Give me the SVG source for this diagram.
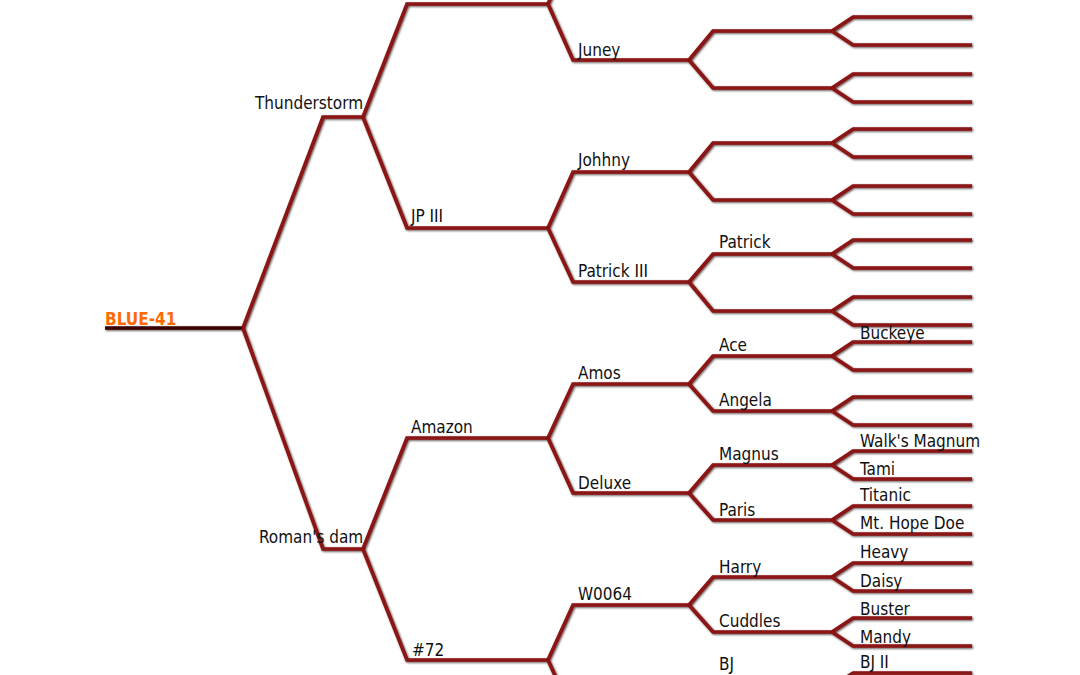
<svg xmlns="http://www.w3.org/2000/svg" width="1080" height="675" viewBox="0 0 1080 675">
<style>
.ln{fill:none;stroke:#8a1212;stroke-width:3.7;stroke-linejoin:miter;stroke-linecap:butt}
.lb{font-family:"DejaVu Sans Condensed","DejaVu Sans",sans-serif;font-size:17px;fill:#111}
.rt{font-family:"DejaVu Sans Condensed","DejaVu Sans",sans-serif;font-size:17px;font-weight:bold;fill:#ff6a00}
</style>
<defs>
<filter id="soft" filterUnits="userSpaceOnUse" x="0" y="-150" width="1080" height="1000">
<feGaussianBlur in="SourceAlpha" stdDeviation="1.3" result="sh"/>
<feOffset in="sh" dx="0.5" dy="1" result="sho"/>
<feFlood flood-color="#1a0000" flood-opacity="0.7"/>
<feComposite in2="sho" operator="in" result="shadow"/>
<feGaussianBlur in="SourceGraphic" stdDeviation="0.6" result="main"/>
<feMerge><feMergeNode in="shadow"/><feMergeNode in="main"/></feMerge>
</filter>
</defs>
<rect width="1080" height="675" fill="#fff"/>
<g id="connectors" class="ln" filter="url(#soft)">
<path d="M105 328H243" stroke="#3a0606"/>
<path d="M243 328L323 117H363"/>
<path d="M243 328L323 549H363"/>
<path d="M363 117L407 4H548"/>
<path d="M363 117L407 228H548"/>
<path d="M363 549L407 438H548"/>
<path d="M363 549L407 660H548"/>
<path d="M548 4L573 -52H689"/>
<path d="M548 4L573 60H689"/>
<path d="M548 228L573 172H689"/>
<path d="M548 228L573 282H689"/>
<path d="M548 438L573 384H689"/>
<path d="M548 438L573 493H689"/>
<path d="M548 660L573 605H689"/>
<path d="M548 660L573 715H689"/>
<path d="M689 60L713 31H832"/>
<path d="M689 60L713 88H832"/>
<path d="M689 172L713 143H832"/>
<path d="M689 172L713 200H832"/>
<path d="M689 282L713 254H832"/>
<path d="M689 282L713 311H832"/>
<path d="M689 384L713 356H832"/>
<path d="M689 384L713 411H832"/>
<path d="M689 493L713 465H832"/>
<path d="M689 493L713 520H832"/>
<path d="M689 605L713 577H832"/>
<path d="M689 605L713 632H832"/>
<path d="M689 715L713 687H832"/>
<path d="M689 715L713 743H832"/>
<path d="M832 31L853 17H972"/>
<path d="M832 31L853 45H972"/>
<path d="M832 88L853 74H972"/>
<path d="M832 88L853 102H972"/>
<path d="M832 143L853 129H972"/>
<path d="M832 143L853 157H972"/>
<path d="M832 200L853 186H972"/>
<path d="M832 200L853 214H972"/>
<path d="M832 254L853 240H972"/>
<path d="M832 254L853 268H972"/>
<path d="M832 311L853 297H972"/>
<path d="M832 311L853 325H972"/>
<path d="M832 356L853 342H972"/>
<path d="M832 356L853 370H972"/>
<path d="M832 411L853 397H972"/>
<path d="M832 411L853 425H972"/>
<path d="M832 465L853 451H972"/>
<path d="M832 465L853 479H972"/>
<path d="M832 520L853 506H972"/>
<path d="M832 520L853 534H972"/>
<path d="M832 577L853 563H972"/>
<path d="M832 577L853 591H972"/>
<path d="M832 632L853 618H972"/>
<path d="M832 632L853 646H972"/>
<path d="M832 687L853 673H972"/>
<path d="M832 687L853 701H972"/>
</g>
<g id="n-blue41"><text class="rt" x="105" y="325">BLUE-41</text></g>
<g id="n-thunderstorm"><text class="lb" x="255" y="109">Thunderstorm</text></g>
<g id="n-romansdam"><text class="lb" x="259" y="543">Roman's dam</text></g>
<g id="n-jp3"><text class="lb" x="411" y="222">JP III</text></g>
<g id="n-amazon"><text class="lb" x="411" y="433">Amazon</text></g>
<g id="n-72"><text class="lb" x="412" y="656">#72</text></g>
<g id="n-juney"><text class="lb" x="578" y="56">Juney</text></g>
<g id="n-johhny"><text class="lb" x="578" y="166">Johhny</text></g>
<g id="n-patrick3"><text class="lb" x="578" y="277">Patrick III</text></g>
<g id="n-amos"><text class="lb" x="578" y="379">Amos</text></g>
<g id="n-deluxe"><text class="lb" x="578" y="489">Deluxe</text></g>
<g id="n-w0064"><text class="lb" x="578" y="600">W0064</text></g>
<g id="n-patrick"><text class="lb" x="719" y="248">Patrick</text></g>
<g id="n-ace"><text class="lb" x="719" y="351">Ace</text></g>
<g id="n-angela"><text class="lb" x="719" y="406">Angela</text></g>
<g id="n-magnus"><text class="lb" x="719" y="460">Magnus</text></g>
<g id="n-paris"><text class="lb" x="719" y="516">Paris</text></g>
<g id="n-harry"><text class="lb" x="719" y="573">Harry</text></g>
<g id="n-cuddles"><text class="lb" x="719" y="627">Cuddles</text></g>
<g id="n-bj"><text class="lb" x="719" y="670">BJ</text></g>
<g id="n-buckeye"><text class="lb" x="860" y="339">Buckeye</text></g>
<g id="n-walksmagnum"><text class="lb" x="860" y="447">Walk's Magnum</text></g>
<g id="n-tami"><text class="lb" x="860" y="475">Tami</text></g>
<g id="n-titanic"><text class="lb" x="860" y="501">Titanic</text></g>
<g id="n-mthopedoe"><text class="lb" x="860" y="529">Mt. Hope Doe</text></g>
<g id="n-heavy"><text class="lb" x="860" y="558">Heavy</text></g>
<g id="n-daisy"><text class="lb" x="860" y="587">Daisy</text></g>
<g id="n-buster"><text class="lb" x="860" y="615">Buster</text></g>
<g id="n-mandy"><text class="lb" x="860" y="643">Mandy</text></g>
<g id="n-bj2"><text class="lb" x="860" y="668">BJ II</text></g>
</svg>
